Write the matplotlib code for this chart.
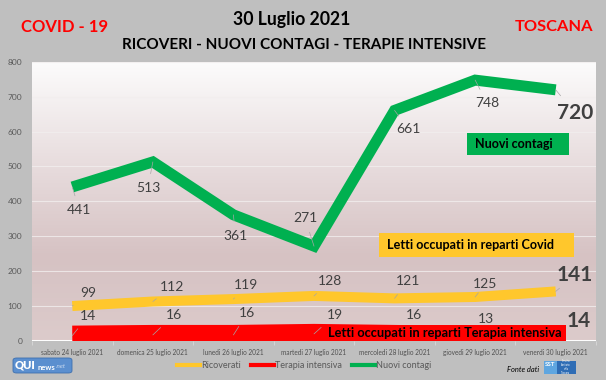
import numpy as np
import matplotlib
matplotlib.use("Agg")
import matplotlib.pyplot as plt
from matplotlib.patches import Rectangle, FancyBboxPatch
from matplotlib.colors import LinearSegmentedColormap
from matplotlib.lines import Line2D

plt.rcParams['font.family'] = ['Lato', 'DejaVu Sans']

# ---------------- data ----------------
days = ["sabato 24 luglio 2021", "domenica 25 luglio 2021", "lunedi 26 luglio 2021",
        "martedi 27 luglio 2021", "mercoledi 28 luglio 2021", "giovedi 29 luglio 2021",
        "venerdi 30 luglio 2021"]
ricoverati = [99, 112, 119, 128, 121, 125, 141]
terapia = [14, 16, 16, 19, 16, 13, 14]
contagi = [441, 513, 361, 271, 661, 748, 720]
yticks = [0, 100, 200, 300, 400, 500, 600, 700, 800]

# label offsets (pixels) relative to the points
off_contagi = [(7, -23), (-5, -26), (2, -21), (-9, 28), (14, -19), (12, -23), (19, -23)]
off_ricov = [(16, 13), (19, 15), (13, 14), (16, 15), (13, 17), (10, 13), (19, 16)]
off_ter = [(16, 20), (21, 20), (14, 22), (21, 19), (19, 20), (11, 17), (23, 15)]

W, H = 606, 380
fig = plt.figure(figsize=(W / 100, H / 100), dpi=100)
fig.patch.set_facecolor('#bfbfbf')


def fx(x):
    return x / W


def fy(y):
    return 1 - y / H


ax = fig.add_axes([fx(32), fy(340.5), fx(596) - fx(32), (340.5 - 62) / H])
ax.set_xlim(-0.5, len(days) - 0.5)
ax.set_ylim(0, 800)

# gradient background
cmap = LinearSegmentedColormap.from_list(
    'bg', [(0.0, '#dccbcb'), (0.3, '#d6c2c3'), (0.6, '#e6dadb'), (1.0, '#fcfcfc')])
grad = np.linspace(0, 1, 256).reshape(-1, 1)
ax.imshow(grad, extent=[0, 1, 0, 1], transform=ax.transAxes, cmap=cmap,
          origin='lower', aspect='auto', zorder=0)
for s in ax.spines.values():
    s.set_visible(False)
ax.set_yticks(yticks)
ax.set_yticklabels([str(v) for v in yticks], fontsize=6, color='#595959')
ax.tick_params(axis='y', length=0, pad=7)
ax.grid(axis='y', color='#f2eeee', lw=0.8, alpha=0.8, zorder=1)
ax.set_axisbelow(True)
x = np.arange(len(days))
ax.set_xticks(x)
ax.set_xticklabels(days, fontsize=4.7, color='#505050')
ax.tick_params(axis='x', length=0, pad=6)
ax.set_xticks(np.arange(len(days) + 1) - 0.5, minor=True)
ax.tick_params(axis='x', which='minor', length=3, color='#d9d9d9', width=0.6)

c_y, c_r, c_g = '#ffc72c', '#ff0000', '#00b050'
ax.plot(x, terapia, color=c_r, lw=14.4, solid_capstyle='butt', solid_joinstyle='miter', zorder=3)
ax.plot(x, ricoverati, color=c_y, lw=7.2, solid_capstyle='butt', solid_joinstyle='miter', zorder=3)
ax.plot(x, contagi, color=c_g, lw=7.9, solid_capstyle='butt', solid_joinstyle='miter', zorder=3)


def labels(vals, offs):
    n = len(vals)
    for i, (v, o) in enumerate(zip(vals, offs)):
        last = i == n - 1
        ax.annotate(str(v), xy=(i, v), xytext=o, textcoords='offset pixels',
                    ha='center', va='center', color='#404040',
                    fontsize=15 if last else 10, fontweight='bold' if last else 'normal',
                    arrowprops=dict(arrowstyle='-', color='#a6a6a6', lw=0.5,
                                    shrinkA=4, shrinkB=0),
                    zorder=6)


labels(contagi, off_contagi)
labels(ricoverati, off_ricov)
labels(terapia, off_ter)

# ---------------- text boxes ----------------
def box(x0, y0, x1, y1, color, txt, tx):
    fig.patches.append(Rectangle((fx(x0), fy(y1)), fx(x1) - fx(x0), fy(y0) - fy(y1),
                                 transform=fig.transFigure, facecolor=color,
                                 edgecolor='none', zorder=5))
    return fig.text(fx(tx), fy((y0 + y1) / 2), txt, ha='left', va='center',
                    fontsize=9, fontweight='bold', color='black', zorder=7)


t_nc = box(467, 133, 569, 155, c_g, "Nuovi contagi", 475)
t_cv = box(379, 233, 574, 257, c_y, "Letti occupati in reparti Covid", 387)
t_ti = box(323, 325, 566, 341, c_r, "Letti occupati in reparti Terapia intensiva", 328)

# ---------------- titles ----------------
t1 = fig.text(fx(64.5), fy(27), "COVID - 19", ha='center', va='center', color='#ff0000',
              fontsize=12, fontweight='bold')
t2 = fig.text(fx(291.5), fy(20), "30 Luglio 2021", ha='center', va='center', color='black',
              fontsize=12, fontweight='bold')
t3 = fig.text(fx(304), fy(45), "RICOVERI - NUOVI CONTAGI - TERAPIE INTENSIVE", ha='center',
              va='center', color='black', fontsize=11, fontweight='bold')
t4 = fig.text(fx(554), fy(27), "TOSCANA", ha='center', va='center', color='#ff0000',
              fontsize=12, fontweight='bold')

# legend
handles = [Line2D([], [], color=c_y, lw=3), Line2D([], [], color=c_r, lw=3),
           Line2D([], [], color=c_g, lw=3)]
leg = fig.legend(handles, ["Ricoverati", "Terapia intensiva", "Nuovi contagi"],
                 loc='center', bbox_to_anchor=(fx(304), fy(366)), ncol=3, frameon=False,
                 fontsize=6.5, handlelength=2.6, handletextpad=0.1, columnspacing=1.1)
for t in leg.get_texts():
    t.set_color('#595959')

# logos
fig.patches.append(FancyBboxPatch((fx(13), fy(373)), fx(59), fy(358) - fy(373),
                                  boxstyle='round,pad=0,rounding_size=0.006',
                                  transform=fig.transFigure, facecolor='#5b8fcf',
                                  edgecolor='#3d6fae', lw=0.6, zorder=5))
fig.text(fx(15), fy(365.5), "QUI", fontsize=8, fontweight='heavy', color='white',
         ha='left', va='center', zorder=7)
fig.text(fx(38), fy(367), "news", fontsize=5.5, fontweight='bold', color='white',
         ha='left', va='center', zorder=7)
fig.text(fx(56), fy(367), ".net", fontsize=4.5, style='italic', color='#c9daf0',
         ha='left', va='center', zorder=7)
t_fd = fig.text(fx(507), fy(369), "Fonte dati", fontsize=6.5, style='italic', color='black',
                ha='left', va='center')
fig.patches.append(Rectangle((fx(544), fy(374)), fx(32), fy(361) - fy(374),
                             transform=fig.transFigure, facecolor='#2f6db5',
                             edgecolor='none', zorder=5))
fig.patches.append(Rectangle((fx(544), fy(374)), fx(13), fy(361) - fy(374),
                             transform=fig.transFigure, facecolor='#5fa6e0',
                             edgecolor='none', zorder=5))
fig.text(fx(550), fy(365), "SST", fontsize=4.5, fontweight='bold', color='white',
         ha='center', va='center', zorder=7)
fig.text(fx(566), fy(367.5), "Servizio\nSanitario\ndella\nToscana", fontsize=1.8,
         color='white', ha='center', va='center', zorder=7, linespacing=1.0)

# fit text widths
fig.canvas.draw()
r = fig.canvas.get_renderer()
for t, w in [(t1, 87), (t2, 117), (t3, 362), (t4, 78), (t_nc, 78), (t_cv, 167), (t_ti, 234),
             (t_fd, 32)]:
    cur = t.get_window_extent(r).width
    t.set_fontsize(t.get_fontsize() * w / cur)

fig.savefig("out.png", dpi=100, facecolor=fig.get_facecolor())
